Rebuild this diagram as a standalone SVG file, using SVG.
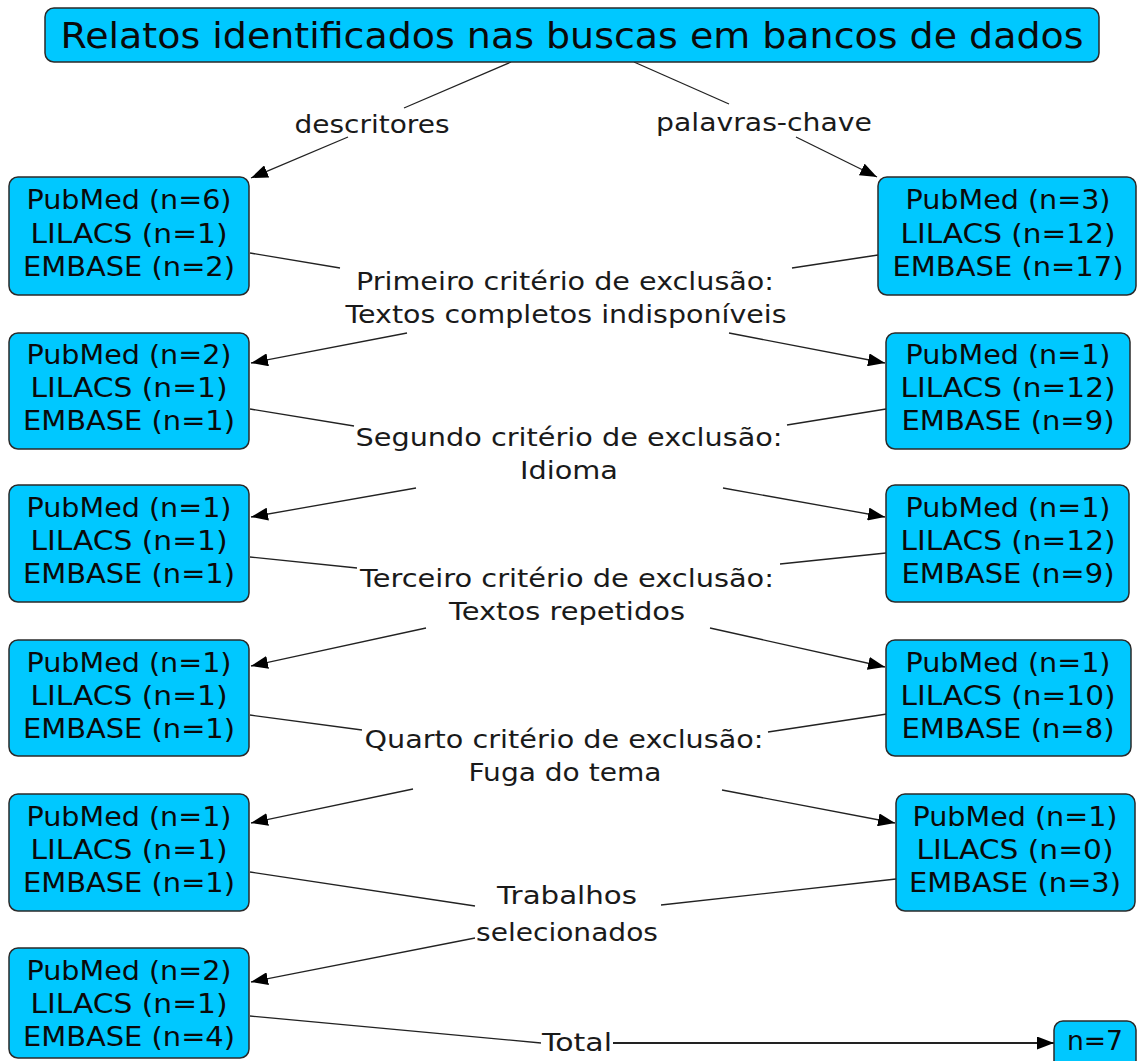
<svg xmlns="http://www.w3.org/2000/svg" width="1137" height="1061" viewBox="0 0 1137 1061">
<style>
.box{fill:#00c8ff;stroke:#2a2a2a;stroke-width:1.5}
.t{font-family:"DejaVu Sans","Verdana",sans-serif;font-size:26px;fill:#0a0a0a;text-anchor:middle}
.title{font-size:35px}
.lbl{font-family:"DejaVu Sans","Verdana",sans-serif;font-size:25.5px;fill:#1a1a1a;text-anchor:middle}
.c{stroke:#222;stroke-width:1.3;fill:none}
.a{stroke:#222;stroke-width:1.3;fill:none;marker-end:url(#ah)}
</style>
<defs>
<marker id="ah" markerUnits="userSpaceOnUse" markerWidth="17" markerHeight="13" refX="17" refY="6.5" orient="auto"><path d="M0,0 L17,6.5 L0,13 Z" fill="#000"/></marker>
</defs>
<rect width="1137" height="1061" fill="#fff"/>

<g id="connectors">
<line class="c" x1="511" y1="62" x2="404" y2="108"/>
<line class="a" x1="348" y1="137" x2="251" y2="178"/>
<line class="c" x1="634" y1="62" x2="729" y2="104"/>
<line class="a" x1="796" y1="137" x2="877" y2="177"/>

<line class="c" x1="250" y1="253" x2="340" y2="268"/>
<line class="c" x1="878" y1="255" x2="792" y2="268"/>
<line class="a" x1="407" y1="333" x2="251" y2="363"/>
<line class="a" x1="729" y1="333" x2="885" y2="363"/>

<line class="c" x1="250" y1="409" x2="354" y2="426"/>
<line class="c" x1="886" y1="409" x2="787" y2="425"/>
<line class="a" x1="416" y1="488" x2="251" y2="517"/>
<line class="a" x1="723" y1="488" x2="885" y2="517"/>

<line class="c" x1="250" y1="557" x2="357" y2="568"/>
<line class="c" x1="886" y1="553" x2="780" y2="564"/>
<line class="a" x1="426" y1="628" x2="251" y2="666"/>
<line class="a" x1="710" y1="628" x2="885" y2="667"/>

<line class="c" x1="250" y1="715" x2="362" y2="730"/>
<line class="c" x1="887" y1="714" x2="768" y2="732"/>
<line class="a" x1="413" y1="789" x2="251" y2="823"/>
<line class="a" x1="722" y1="790" x2="895" y2="823"/>

<line class="c" x1="250" y1="872" x2="475" y2="906"/>
<line class="c" x1="896" y1="879" x2="661" y2="905"/>
<line class="a" x1="475" y1="938" x2="251" y2="982"/>

<line class="c" x1="250" y1="1016" x2="541" y2="1043"/>
<line class="a" x1="613" y1="1043" x2="1054" y2="1043" style="stroke-width:1.8"/>
</g>

<g id="labels">
<text class="lbl" x="372" y="133" textLength="155" lengthAdjust="spacingAndGlyphs">descritores</text>
<text class="lbl" x="764" y="131" textLength="216" lengthAdjust="spacingAndGlyphs">palavras-chave</text>
<text class="lbl" x="565" y="290" textLength="418" lengthAdjust="spacingAndGlyphs">Primeiro critério de exclusão:</text>
<text class="lbl" x="566" y="323" textLength="441" lengthAdjust="spacingAndGlyphs">Textos completos indisponíveis</text>
<text class="lbl" x="569" y="446" textLength="427" lengthAdjust="spacingAndGlyphs">Segundo critério de exclusão:</text>
<text class="lbl" x="569" y="479" textLength="98" lengthAdjust="spacingAndGlyphs">Idioma</text>
<text class="lbl" x="567" y="587" textLength="414" lengthAdjust="spacingAndGlyphs">Terceiro critério de exclusão:</text>
<text class="lbl" x="567" y="620" textLength="236" lengthAdjust="spacingAndGlyphs">Textos repetidos</text>
<text class="lbl" x="564" y="748" textLength="399" lengthAdjust="spacingAndGlyphs">Quarto critério de exclusão:</text>
<text class="lbl" x="565" y="781" textLength="193" lengthAdjust="spacingAndGlyphs">Fuga do tema</text>
<text class="lbl" x="567" y="904" textLength="140" lengthAdjust="spacingAndGlyphs">Trabalhos</text>
<text class="lbl" x="567" y="941" textLength="182" lengthAdjust="spacingAndGlyphs">selecionados</text>
<text class="lbl" x="577" y="1051" textLength="70" lengthAdjust="spacingAndGlyphs">Total</text>
</g>

<g id="title">
<rect class="box" x="45" y="8" width="1054" height="54" rx="9"/>
<text class="t title" x="572" y="48" textLength="1023" lengthAdjust="spacingAndGlyphs">Relatos identificados nas buscas em bancos de dados</text>
</g>

<g id="L1">
<rect class="box" x="9" y="177" width="240" height="118" rx="9"/>
<text class="t" x="129" y="209" textLength="205" lengthAdjust="spacingAndGlyphs">PubMed (n=6)</text>
<text class="t" x="129" y="243" textLength="197" lengthAdjust="spacingAndGlyphs">LILACS (n=1)</text>
<text class="t" x="129" y="276" textLength="212" lengthAdjust="spacingAndGlyphs">EMBASE (n=2)</text>
</g>
<g id="R1">
<rect class="box" x="878" y="177" width="258" height="118" rx="9"/>
<text class="t" x="1008" y="209" textLength="205" lengthAdjust="spacingAndGlyphs">PubMed (n=3)</text>
<text class="t" x="1008" y="243" textLength="215" lengthAdjust="spacingAndGlyphs">LILACS (n=12)</text>
<text class="t" x="1008" y="276" textLength="231" lengthAdjust="spacingAndGlyphs">EMBASE (n=17)</text>
</g>

<g id="L2">
<rect class="box" x="9" y="333" width="240" height="116" rx="9"/>
<text class="t" x="129" y="364" textLength="205" lengthAdjust="spacingAndGlyphs">PubMed (n=2)</text>
<text class="t" x="129" y="397" textLength="197" lengthAdjust="spacingAndGlyphs">LILACS (n=1)</text>
<text class="t" x="129" y="430" textLength="212" lengthAdjust="spacingAndGlyphs">EMBASE (n=1)</text>
</g>
<g id="R2">
<rect class="box" x="886" y="333" width="244" height="116" rx="9"/>
<text class="t" x="1008" y="364" textLength="205" lengthAdjust="spacingAndGlyphs">PubMed (n=1)</text>
<text class="t" x="1008" y="397" textLength="215" lengthAdjust="spacingAndGlyphs">LILACS (n=12)</text>
<text class="t" x="1008" y="430" textLength="213" lengthAdjust="spacingAndGlyphs">EMBASE (n=9)</text>
</g>

<g id="L3">
<rect class="box" x="9" y="485" width="240" height="117" rx="9"/>
<text class="t" x="129" y="517" textLength="205" lengthAdjust="spacingAndGlyphs">PubMed (n=1)</text>
<text class="t" x="129" y="550" textLength="197" lengthAdjust="spacingAndGlyphs">LILACS (n=1)</text>
<text class="t" x="129" y="583" textLength="212" lengthAdjust="spacingAndGlyphs">EMBASE (n=1)</text>
</g>
<g id="R3">
<rect class="box" x="886" y="485" width="243" height="117" rx="9"/>
<text class="t" x="1008" y="517" textLength="205" lengthAdjust="spacingAndGlyphs">PubMed (n=1)</text>
<text class="t" x="1008" y="550" textLength="215" lengthAdjust="spacingAndGlyphs">LILACS (n=12)</text>
<text class="t" x="1008" y="583" textLength="213" lengthAdjust="spacingAndGlyphs">EMBASE (n=9)</text>
</g>

<g id="L4">
<rect class="box" x="9" y="640" width="240" height="116" rx="9"/>
<text class="t" x="129" y="672" textLength="205" lengthAdjust="spacingAndGlyphs">PubMed (n=1)</text>
<text class="t" x="129" y="705" textLength="197" lengthAdjust="spacingAndGlyphs">LILACS (n=1)</text>
<text class="t" x="129" y="738" textLength="212" lengthAdjust="spacingAndGlyphs">EMBASE (n=1)</text>
</g>
<g id="R4">
<rect class="box" x="886" y="640" width="245" height="116" rx="9"/>
<text class="t" x="1008" y="672" textLength="205" lengthAdjust="spacingAndGlyphs">PubMed (n=1)</text>
<text class="t" x="1008" y="705" textLength="215" lengthAdjust="spacingAndGlyphs">LILACS (n=10)</text>
<text class="t" x="1008" y="738" textLength="213" lengthAdjust="spacingAndGlyphs">EMBASE (n=8)</text>
</g>

<g id="L5">
<rect class="box" x="9" y="794" width="240" height="117" rx="9"/>
<text class="t" x="129" y="826" textLength="205" lengthAdjust="spacingAndGlyphs">PubMed (n=1)</text>
<text class="t" x="129" y="859" textLength="197" lengthAdjust="spacingAndGlyphs">LILACS (n=1)</text>
<text class="t" x="129" y="892" textLength="212" lengthAdjust="spacingAndGlyphs">EMBASE (n=1)</text>
</g>
<g id="R5">
<rect class="box" x="896" y="794" width="239" height="117" rx="9"/>
<text class="t" x="1015" y="826" textLength="205" lengthAdjust="spacingAndGlyphs">PubMed (n=1)</text>
<text class="t" x="1015" y="859" textLength="197" lengthAdjust="spacingAndGlyphs">LILACS (n=0)</text>
<text class="t" x="1015" y="892" textLength="212" lengthAdjust="spacingAndGlyphs">EMBASE (n=3)</text>
</g>

<g id="L6">
<rect class="box" x="9" y="948" width="240" height="110" rx="9"/>
<text class="t" x="129" y="980" textLength="205" lengthAdjust="spacingAndGlyphs">PubMed (n=2)</text>
<text class="t" x="129" y="1013" textLength="197" lengthAdjust="spacingAndGlyphs">LILACS (n=1)</text>
<text class="t" x="129" y="1046" textLength="212" lengthAdjust="spacingAndGlyphs">EMBASE (n=4)</text>
</g>

<g id="total">
<rect class="box" x="1054" y="1021" width="82" height="50" rx="9"/>
<text class="t" x="1095" y="1050" textLength="56" lengthAdjust="spacingAndGlyphs">n=7</text>
</g>
</svg>
